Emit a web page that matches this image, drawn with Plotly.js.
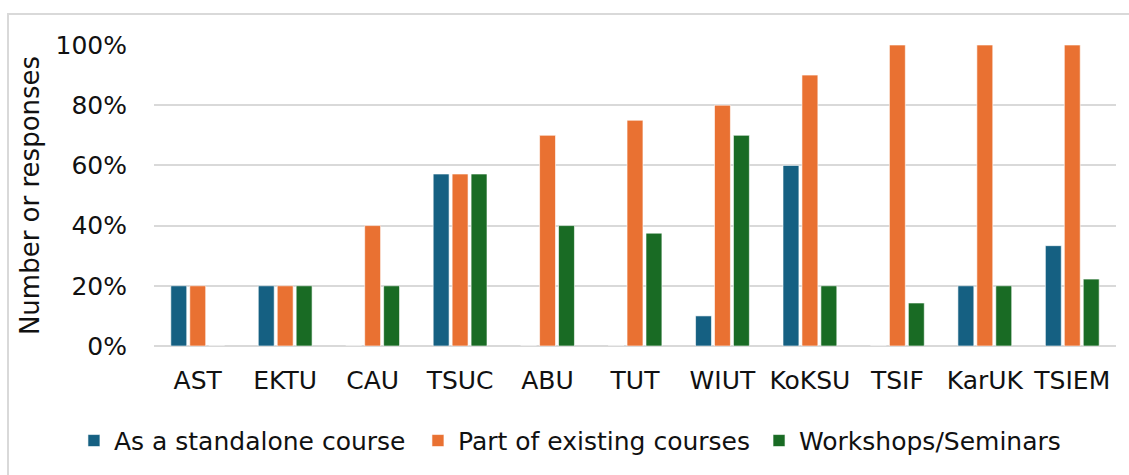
<!DOCTYPE html>
<html>
<head>
<meta charset="utf-8">
<script src="https://cdn.plot.ly/plotly-3.0.1.min.js"></script>
<style>
  html, body { margin: 0; padding: 0; background: #fff; }
  #wrap { position: relative; width: 1129px; height: 475px; overflow: hidden; }
  #chart { position: absolute; left: 0; top: 0; width: 1129px; height: 475px; }
  #frame { position: absolute; left: 7px; top: 13px; width: 1130px; height: 470px;
           border-top: 2px solid #d9d9d9; border-left: 2px solid #d9d9d9; pointer-events: none; }
</style>
</head>
<body>
<div id="wrap">
  <div id="chart"></div>
  <div id="frame"></div>
</div>
<script>
const categories = ["AST", "EKTU", "CAU", "TSUC", "ABU", "TUT", "WIUT", "KoKSU", "TSIF", "KarUK", "TSIEM"];
const standalone = [0.20, 0.20, 0, 0.5714, 0, 0, 0.10, 0.60, 0, 0.20, 0.3333];
const partOfExisting = [0.20, 0.20, 0.40, 0.5714, 0.70, 0.75, 0.80, 0.90, 1.00, 1.00, 1.00];
const workshops = [0, 0.20, 0.20, 0.5714, 0.40, 0.375, 0.70, 0.20, 0.1429, 0.20, 0.2222];
const seriesNames = ["As a standalone course", "Part of existing courses", "Workshops/Seminars"];
const yTickVals = [0, 0.2, 0.4, 0.6, 0.8, 1.0];
const yTickText = ["0%", "20%", "40%", "60%", "80%", "100%"];

const colors = ["#156082", "#E97132", "#196B24"];
const seriesData = [standalone, partOfExisting, workshops];
const legendIds = ["legend", "legend2", "legend3"];
const legendX = [0.0655, 0.3702, 0.6723];
const FONT = "DejaVu Sans, Liberation Sans, Arial, sans-serif";

const traces = seriesData.map((vals, i) => ({
  type: "bar",
  name: seriesNames[i],
  x: categories,
  y: vals,
  legend: legendIds[i],
  marker: { color: colors[i], line: { color: "rgba(255,255,255,0.6)", width: 1 } },
  hoverinfo: "x+y+name"
}));

const layout = {
  width: 1129,
  height: 475,
  margin: { l: 154, r: 13, t: 45, b: 129, pad: 0 },
  paper_bgcolor: "#ffffff",
  plot_bgcolor: "#ffffff",
  barmode: "group",
  bargap: 0.35,
  bargroupgap: 0.16,
  font: { family: FONT, color: "#111111", size: 25 },
  xaxis: {
    type: "category",
    showgrid: false,
    showline: false,
    ticks: "",
    ticklabelstandoff: 17,
    tickfont: { family: FONT, size: 25, color: "#111111" },
    automargin: false
  },
  yaxis: {
    range: [0, 1],
    tickvals: yTickVals,
    ticktext: yTickText,
    showgrid: true,
    gridcolor: "#d9d9d9",
    gridwidth: 2,
    zeroline: true,
    zerolinecolor: "#d9d9d9",
    zerolinewidth: 2,
    showline: false,
    ticks: "",
    ticklabelstandoff: 26,
    tickfont: { family: FONT, size: 25, color: "#111111" },
    title: { text: "Number or responses", font: { family: FONT, size: 26, color: "#111111" }, standoff: 8 },
    automargin: false
  },
  showlegend: true
};

legendIds.forEach((id, i) => {
  layout[id] = {
    orientation: "h",
    xref: "container",
    yref: "container",
    x: legendX[i],
    xanchor: "left",
    y: 0.072,
    yanchor: "middle",
    font: { family: FONT, size: 25, color: "#111111" },
    itemwidth: 30,
    bgcolor: "rgba(0,0,0,0)"
  };
});

Plotly.newPlot("chart", traces, layout, { displayModeBar: false, staticPlot: true });
</script>
</body>
</html>
